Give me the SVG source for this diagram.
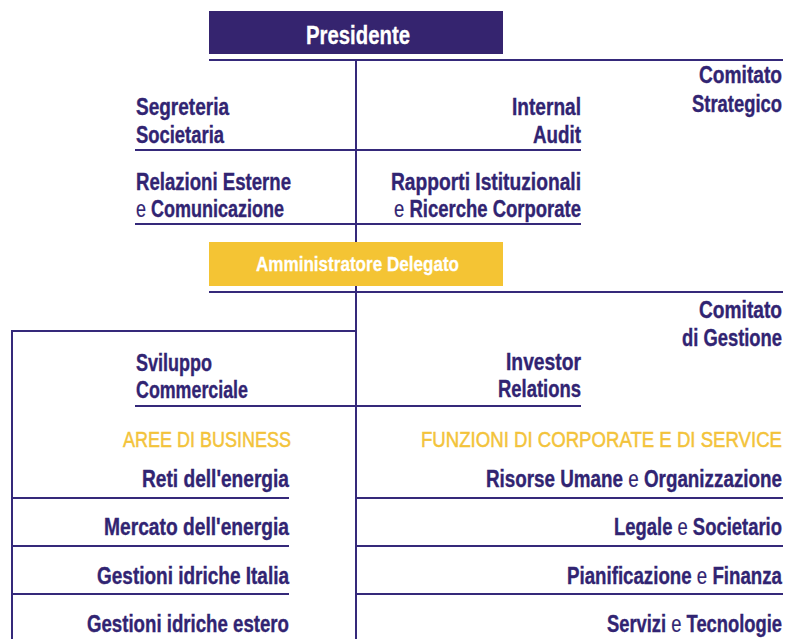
<svg xmlns="http://www.w3.org/2000/svg" width="785" height="639" viewBox="0 0 785 639">
<style>
.t{font-family:"Liberation Sans",Arial,sans-serif;font-weight:bold;font-size:23px;fill:#312472;stroke:#312472;stroke-width:0.35}
.r{font-weight:normal;stroke-width:0.2}
.h{font-family:"Liberation Sans",Arial,sans-serif;font-weight:normal;font-size:22px;fill:#f3c33a;stroke:#f3c33a;stroke-width:0.5}
.w{font-family:"Liberation Sans",Arial,sans-serif;font-weight:bold;fill:#ffffff;stroke:#ffffff;stroke-width:0.3}
.e{text-anchor:end}
.ln{stroke:#35297a;stroke-width:2;fill:none}
</style>
<rect width="785" height="639" fill="#ffffff"/>
<g id="connectors">
<line class="ln" x1="356" y1="60" x2="356" y2="639"/>
<line class="ln" x1="209" y1="60" x2="783" y2="60"/>
<line class="ln" x1="135" y1="150" x2="581" y2="150"/>
<line class="ln" x1="135" y1="224" x2="581" y2="224"/>
<line class="ln" x1="209" y1="292" x2="783" y2="292"/>
<polyline class="ln" points="356,331 12,331 12,639"/>
<line class="ln" x1="135" y1="406" x2="581" y2="406"/>
<line class="ln" x1="12" y1="498" x2="289" y2="498"/>
<line class="ln" x1="12" y1="546" x2="289" y2="546"/>
<line class="ln" x1="12" y1="594" x2="289" y2="594"/>
<line class="ln" x1="356" y1="498" x2="783" y2="498"/>
<line class="ln" x1="356" y1="546" x2="783" y2="546"/>
<line class="ln" x1="356" y1="594" x2="783" y2="594"/>
</g>
<g id="presidente">
<rect x="209" y="11" width="294" height="43" fill="#35246f"/>
<text class="w" x="306" y="44" font-size="26" textLength="104" lengthAdjust="spacingAndGlyphs">Presidente</text>
</g>
<g id="comitato-strategico">
<text class="t e" x="782" y="83" textLength="83" lengthAdjust="spacingAndGlyphs">Comitato</text>
<text class="t e" x="782" y="112" textLength="90" lengthAdjust="spacingAndGlyphs">Strategico</text>
</g>
<g id="segreteria">
<text class="t" x="136" y="115" textLength="93" lengthAdjust="spacingAndGlyphs">Segreteria</text>
<text class="t" x="136" y="143" textLength="88" lengthAdjust="spacingAndGlyphs">Societaria</text>
</g>
<g id="internal-audit">
<text class="t e" x="581" y="115" textLength="69" lengthAdjust="spacingAndGlyphs">Internal</text>
<text class="t e" x="581" y="143" textLength="48" lengthAdjust="spacingAndGlyphs">Audit</text>
</g>
<g id="relazioni">
<text class="t" x="136" y="190" textLength="155" lengthAdjust="spacingAndGlyphs">Relazioni Esterne</text>
<text class="t" x="136" y="217" textLength="148" lengthAdjust="spacingAndGlyphs"><tspan class="r">e</tspan> Comunicazione</text>
</g>
<g id="rapporti">
<text class="t e" x="581" y="190" textLength="190" lengthAdjust="spacingAndGlyphs">Rapporti Istituzionali</text>
<text class="t e" x="581" y="217" textLength="187" lengthAdjust="spacingAndGlyphs"><tspan class="r">e</tspan> Ricerche Corporate</text>
</g>
<g id="amministratore">
<rect x="209" y="242" width="294" height="44" fill="#f4c434"/>
<text class="w" x="256" y="271" font-size="21" textLength="203" lengthAdjust="spacingAndGlyphs">Amministratore Delegato</text>
</g>
<g id="comitato-gestione">
<text class="t e" x="782" y="318" textLength="83" lengthAdjust="spacingAndGlyphs">Comitato</text>
<text class="t e" x="782" y="346" textLength="100" lengthAdjust="spacingAndGlyphs">di Gestione</text>
</g>
<g id="sviluppo">
<text class="t" x="136" y="371" textLength="76" lengthAdjust="spacingAndGlyphs">Sviluppo</text>
<text class="t" x="136" y="398" textLength="112" lengthAdjust="spacingAndGlyphs">Commerciale</text>
</g>
<g id="investor">
<text class="t e" x="581" y="370" textLength="75" lengthAdjust="spacingAndGlyphs">Investor</text>
<text class="t e" x="581" y="397" textLength="83" lengthAdjust="spacingAndGlyphs">Relations</text>
</g>
<g id="aree-business">
<text class="h e" x="291" y="447" textLength="168" lengthAdjust="spacingAndGlyphs">AREE DI BUSINESS</text>
<text class="t e" x="289" y="487" textLength="147" lengthAdjust="spacingAndGlyphs">Reti dell'energia</text>
<text class="t e" x="289" y="535" textLength="185" lengthAdjust="spacingAndGlyphs">Mercato dell'energia</text>
<text class="t e" x="289" y="584" textLength="192" lengthAdjust="spacingAndGlyphs">Gestioni idriche Italia</text>
<text class="t e" x="289" y="632" textLength="202" lengthAdjust="spacingAndGlyphs">Gestioni idriche estero</text>
</g>
<g id="funzioni">
<text class="h e" x="782" y="447" textLength="361" lengthAdjust="spacingAndGlyphs">FUNZIONI DI CORPORATE E DI SERVICE</text>
<text class="t e" x="782" y="487" textLength="296" lengthAdjust="spacingAndGlyphs">Risorse Umane <tspan class="r">e</tspan> Organizzazione</text>
<text class="t e" x="782" y="535" textLength="168" lengthAdjust="spacingAndGlyphs">Legale <tspan class="r">e</tspan> Societario</text>
<text class="t e" x="782" y="584" textLength="215" lengthAdjust="spacingAndGlyphs">Pianificazione <tspan class="r">e</tspan> Finanza</text>
<text class="t e" x="782" y="632" textLength="175" lengthAdjust="spacingAndGlyphs">Servizi <tspan class="r">e</tspan> Tecnologie</text>
</g>
</svg>
